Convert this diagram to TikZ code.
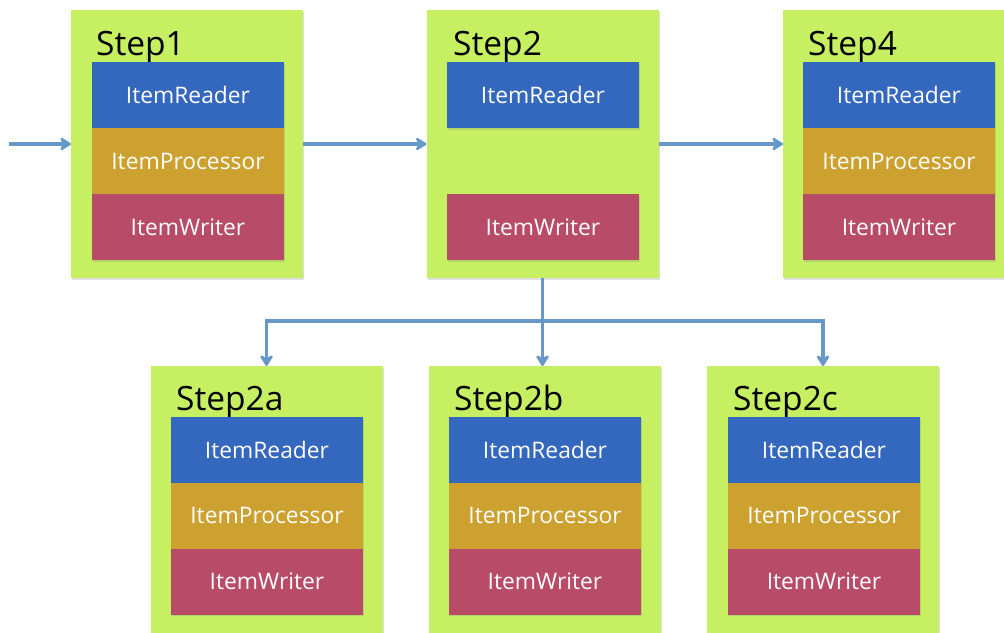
\documentclass[tikz,border=0pt]{standalone}
\usepackage{fontspec}
\setmainfont{Open Sans}
\usetikzlibrary{positioning,arrows.meta,shadows}

\definecolor{steplime}{RGB}{198,240,98}
\definecolor{readerblue}{RGB}{52,103,190}
\definecolor{procgold}{RGB}{204,161,48}
\definecolor{writerred}{RGB}{184,75,103}
\definecolor{flowblue}{RGB}{104,152,200}

\begin{document}
\begin{tikzpicture}[x=1pt, y=-1pt,
	stepbox/.style={rectangle, fill=steplime, minimum width=232pt, minimum height=268pt, inner sep=0pt, outer sep=0pt,
		drop shadow={shadow xshift=1pt, shadow yshift=-1.5pt, opacity=0.25}},
	steptitle/.style={anchor=base west, inner sep=0pt, font=\fontsize{33.5}{33.5}\selectfont},
	part/.style={rectangle, text=white, minimum width=192pt, minimum height=66pt, inner sep=0pt, outer sep=0pt,
		font=\fontsize{22.8}{22.8}\selectfont, drop shadow={shadow xshift=1pt, shadow yshift=-1.5pt, opacity=0.25}},
	reader/.style={part, fill=readerblue},
	processor/.style={part, fill=procgold},
	writer/.style={part, fill=writerred},
	flow/.style={draw=flowblue, line width=3.5pt, -{Stealth[length=13pt, width=16pt, inset=4pt, round]}}]
				\useasboundingbox (0,0) rectangle (1004,632);
				\clip (0,0) rectangle (1004,632);
				% top row
				\node[stepbox] (s1) at (187,144) {};
				\node[steptitle] (t1) at (96,55) {Step1};
				\node[reader] (r1) at (188,95) {ItemReader};
				\node[processor, below=0pt of r1] (p1) {ItemProcessor};
				\node[writer, below=0pt of p1] (w1) {ItemWriter};
				\node[stepbox] (s2) at (542.5,144) {};
				\node[steptitle] (t2) at (453,55) {Step2};
				\node[reader] (r2) at (543,95) {ItemReader};
				\node[writer] (w2) at (543,227) {ItemWriter};
				\node[stepbox] (s4) at (899,144) {};
				\node[steptitle] (t4) at (808,55) {Step4};
				\node[reader] (r4) at (899,95) {ItemReader};
				\node[processor, below=0pt of r4] (p4) {ItemProcessor};
				\node[writer, below=0pt of p4] (w4) {ItemWriter};
				% bottom row
				\node[stepbox] (s2a) at (266.5,500) {};
				\node[steptitle] (t2a) at (176,410) {Step2a};
				\node[reader] (r2a) at (267,449.5) {ItemReader};
				\node[processor, below=0pt of r2a] (p2a) {ItemProcessor};
				\node[writer, below=0pt of p2a] (w2a) {ItemWriter};
				\node[stepbox] (s2b) at (545,500) {};
				\node[steptitle] (t2b) at (454,410) {Step2b};
				\node[reader] (r2b) at (545,449.5) {ItemReader};
				\node[processor, below=0pt of r2b] (p2b) {ItemProcessor};
				\node[writer, below=0pt of p2b] (w2b) {ItemWriter};
				\node[stepbox] (s2c) at (823,500) {};
				\node[steptitle] (t2c) at (733,410) {Step2c};
				\node[reader] (r2c) at (824,449.5) {ItemReader};
				\node[processor, below=0pt of r2c] (p2c) {ItemProcessor};
				\node[writer, below=0pt of p2c] (w2c) {ItemWriter};
				% connectors
				\coordinate (start) at (9,144);
				\coordinate (fork) at (542.5,321);
				\draw[flow] (start) -- (s1);
				\draw[flow] (s1) -- (s2);
				\draw[flow] (s2) -- (s4);
				\draw[flow] (s2.south) -- (s2.south |- s2b.north);
				\draw[flow] (fork) -| (s2a.north);
				\draw[flow] (fork) -| (s2c.north);
			\end{tikzpicture}
\end{document}
